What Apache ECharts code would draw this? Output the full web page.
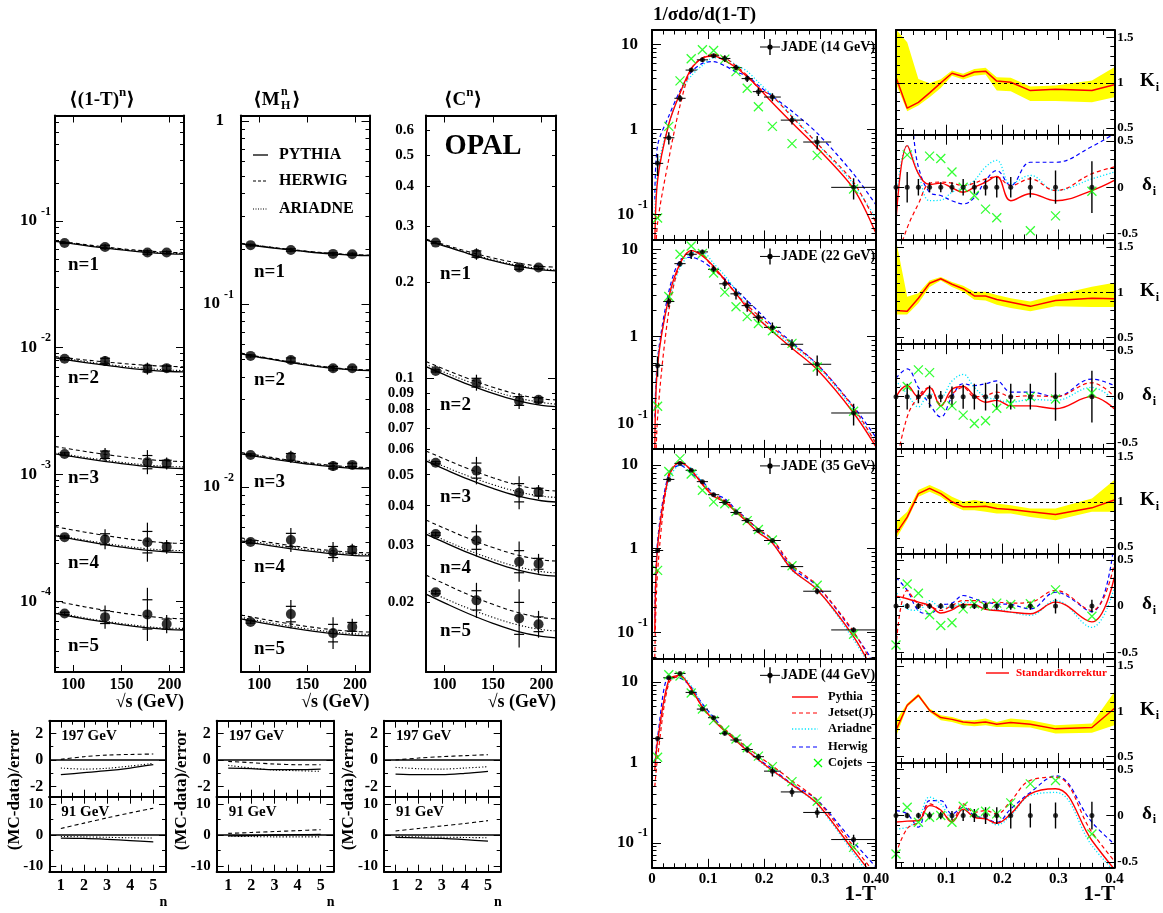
<!DOCTYPE html>
<html>
<head>
<meta charset="utf-8">
<title>OPAL moments and JADE 1-T spectra</title>
<script src="https://cdn.jsdelivr.net/npm/echarts@6.0.0/dist/echarts.min.js"></script>
<style>
html,body{margin:0;padding:0;background:#ffffff;}
#chart{width:1163px;height:913px;}
</style>
</head>
<body>
<div id="chart"></div>
<script>
// ======================= DATA : left block (OPAL moments) =======================
const SQRT_S = [91, 133, 177, 197];
const CURVE_S = [81, 100, 125, 150, 175, 200, 215];

const TAU_DATA = [
  [0.0671, 0.0624, 0.0564, 0.0564],
  [0.00819, 0.00785, 0.00684, 0.0069],
  [0.00145, 0.00143, 0.00125, 0.00122],
  [3.2e-4, 3.08e-4, 2.92e-4, 2.68e-4],
  [8.0e-5, 7.48e-5, 7.86e-5, 6.6e-5]];
const TAU_ERR = [[0.008,0.024,0.024,0.016],[0.016,0.04,0.047,0.032],[0.016,0.053,0.095,0.047],[0.016,0.079,0.154,0.055],[0.016,0.092,0.21,0.072]];
const TAU_PYTHIA = [
  [0.0692,0.0661,0.0622,0.0592,0.0566,0.0551,0.0547],
  [0.00830,0.00789,0.00741,0.00700,0.00669,0.00649,0.00644],
  [0.001455,0.001380,0.001291,0.001217,0.001160,0.001123,0.001114],
  [3.289e-4,3.092e-4,2.862e-4,2.674e-4,2.529e-4,2.438e-4,2.415e-4],
  [8.0e-5,7.53e-5,6.98e-5,6.53e-5,6.19e-5,5.97e-5,5.92e-5]];
const TAU_HERWIG = [
  [0.0700,0.0670,0.0634,0.0604,0.0581,0.0566,0.0562],
  [0.00851,0.00820,0.00783,0.00752,0.00728,0.00712,0.00708],
  [0.001660,0.001572,0.001468,0.001383,0.001317,0.001275,0.001265],
  [3.873e-4,3.642e-4,3.373e-4,3.154e-4,2.984e-4,2.877e-4,2.851e-4],
  [1.0e-4,9.38e-5,8.66e-5,8.07e-5,7.62e-5,7.33e-5,7.26e-5]];
const TAU_ARIADNE = [
  [0.0695,0.0665,0.0627,0.0597,0.0572,0.0557,0.0555],
  [0.00836,0.00803,0.00755,0.00716,0.00687,0.00666,0.00661],
  [0.001483,0.001409,0.001320,0.001246,0.001190,0.001154,0.001148],
  [3.33e-4,3.14e-4,2.92e-4,2.74e-4,2.60e-4,2.52e-4,2.51e-4],
  [8.13e-5,7.66e-5,7.10e-5,6.66e-5,6.32e-5,6.11e-5,6.10e-5]];

const MH_DATA = [
  [0.2095, 0.197, 0.1876, 0.1868],
  [0.052, 0.0494, 0.0445, 0.0445],
  [0.01496, 0.0146, 0.0130, 0.0132],
  [5.0e-3, 5.13e-3, 4.41e-3, 4.53e-3],
  [1.83e-3, 2.02e-3, 1.59e-3, 1.72e-3]];
const MH_ERR = [[0.008,0.012,0.012,0.01],[0.01,0.02,0.018,0.012],[0.01,0.033,0.027,0.016],[0.012,0.066,0.055,0.033],[0.012,0.077,0.087,0.044]];
const MH_PYTHIA = [
  [0.2128,0.2066,0.1991,0.1927,0.1877,0.1844,0.1837],
  [0.05333,0.05113,0.04850,0.04629,0.04457,0.04346,0.04319],
  [0.01514,0.01459,0.01391,0.01335,0.01290,0.01261,0.01254],
  [5.07e-3,4.88e-3,4.66e-3,4.47e-3,4.32e-3,4.22e-3,4.20e-3],
  [1.901e-3,1.821e-3,1.726e-3,1.647e-3,1.585e-3,1.545e-3,1.535e-3]];
const MH_HERWIG = [
  [0.2143,0.2080,0.2005,0.1940,0.1890,0.1857,0.1850],
  [0.05382,0.05160,0.04895,0.04672,0.04498,0.04386,0.04359],
  [0.01542,0.01486,0.01417,0.01360,0.01314,0.01284,0.01277],
  [5.27e-3,5.08e-3,4.85e-3,4.65e-3,4.49e-3,4.39e-3,4.37e-3],
  [1.996e-3,1.912e-3,1.812e-3,1.729e-3,1.664e-3,1.622e-3,1.612e-3]];
const MH_ARIADNE = [
  [0.2135,0.2073,0.1998,0.1934,0.1884,0.1850,0.1843],
  [0.05358,0.05137,0.04872,0.04650,0.04478,0.04366,0.04339],
  [0.01529,0.01474,0.01405,0.01348,0.01303,0.01274,0.01267],
  [5.17e-3,4.98e-3,4.75e-3,4.56e-3,4.41e-3,4.30e-3,4.28e-3],
  [1.939e-3,1.857e-3,1.761e-3,1.680e-3,1.617e-3,1.576e-3,1.566e-3]];

const C_DATA = [
  [0.2667, 0.2455, 0.2228, 0.2228],
  [0.1057, 0.0971, 0.0851, 0.0858],
  [0.0545, 0.0515, 0.0439, 0.0441],
  [0.0326, 0.0311, 0.0267, 0.0263],
  [0.0214, 0.0202, 0.01774, 0.0170]];
const C_ERR = [[0.005,0.018,0.01,0.006],[0.006,0.025,0.025,0.013],[0.006,0.043,0.052,0.022],[0.007,0.05,0.063,0.031],[0.008,0.055,0.091,0.042]];
const C_PYTHIA = [
  [0.2721,0.2602,0.2460,0.2342,0.2250,0.2190,0.2176],
  [0.1090,0.1029,0.09576,0.08985,0.08531,0.08241,0.08170],
  [0.05521,0.05204,0.04833,0.04528,0.04293,0.04144,0.04106],
  [0.03259,0.03068,0.02844,0.02661,0.02519,0.02429,0.02407],
  [0.02113,0.01984,0.01834,0.01711,0.01616,0.01557,0.01542]];
const C_HERWIG = [
  [0.2735,0.2626,0.2497,0.2388,0.2303,0.2247,0.2234],
  [0.1131,0.1070,0.09984,0.09393,0.08938,0.08647,0.08575],
  [0.05934,0.05601,0.05212,0.04891,0.04643,0.04485,0.04446],
  [0.03606,0.03399,0.03155,0.02957,0.02804,0.02706,0.02682],
  [0.02424,0.02276,0.02103,0.01963,0.01853,0.01785,0.01768]];
const C_ARIADNE = [
  [0.2728,0.2612,0.2472,0.2356,0.2266,0.2207,0.2193],
  [0.1109,0.1047,0.0977,0.0916,0.0871,0.0842,0.0832],
  [0.05601,0.05301,0.04947,0.04654,0.04428,0.04283,0.04247],
  [0.03306,0.03118,0.02897,0.02716,0.02575,0.02486,0.02464],
  [0.02175,0.02051,0.01905,0.01787,0.01695,0.01636,0.01622]];

// (MC-data)/error versus n
const N_VALUES = [1, 2, 3, 4, 5];
const DEV_TAU_197_PY = [-1.1, -0.95, -0.8, -0.6, -0.35];
const DEV_TAU_197_HW = [0.05, 0.25, 0.37, 0.42, 0.45];
const DEV_TAU_197_AR = [-0.6, -0.68, -0.62, -0.45, -0.25];
const DEV_TAU_91_PY = [-1.0, -1.1, -1.4, -1.8, -2.2];
const DEV_TAU_91_HW = [2.1, 3.8, 5.5, 7.1, 8.6];
const DEV_TAU_91_AR = [-0.5, -0.6, -0.75, -0.9, -1.0];
const DEV_MH_197_PY = [-0.6, -0.65, -0.72, -0.72, -0.68];
const DEV_MH_197_HW = [-0.1, -0.2, -0.3, -0.35, -0.35];
const DEV_MH_197_AR = [-0.4, -0.6, -0.75, -0.8, -0.85];
const DEV_MH_91_PY = [-0.3, -0.2, 0.0, 0.1, 0.2];
const DEV_MH_91_HW = [0.5, 0.8, 1.1, 1.4, 1.7];
const DEV_MH_91_AR = [-0.4, -0.5, -0.6, -0.6, -0.6];
const DEV_C_197_PY = [-1.05, -1.1, -1.1, -1.0, -0.85];
const DEV_C_197_HW = [0.0, 0.15, 0.25, 0.33, 0.4];
const DEV_C_197_AR = [-0.55, -0.65, -0.68, -0.6, -0.5];
const DEV_C_91_PY = [-0.8, -0.9, -1.1, -1.5, -2.0];
const DEV_C_91_HW = [1.3, 2.1, 2.9, 3.7, 4.6];
const DEV_C_91_AR = [-0.5, -0.6, -0.7, -0.8, -0.9];

// ======================= DATA : right block (JADE 1-T) =======================
const BIN_X  = [0.01, 0.03, 0.05, 0.07, 0.09, 0.11, 0.13, 0.15, 0.17, 0.19, 0.215, 0.25, 0.295, 0.36];
const BIN_LO = [0.00, 0.02, 0.04, 0.06, 0.08, 0.10, 0.12, 0.14, 0.16, 0.18, 0.20, 0.23, 0.27, 0.32];
const BIN_HI = [0.02, 0.04, 0.06, 0.08, 0.10, 0.12, 0.14, 0.16, 0.18, 0.20, 0.23, 0.27, 0.32, 0.40];
const MC_X    = [0.005, 0.01, 0.03, 0.05, 0.07, 0.09, 0.11, 0.13, 0.15, 0.17, 0.19, 0.215, 0.25, 0.295, 0.36, 0.40];
const RATIO_X = [0.01, 0.03, 0.05, 0.07, 0.09, 0.11, 0.13, 0.15, 0.17, 0.19, 0.215, 0.25, 0.295, 0.36, 0.40];
const ENERGY_LABELS = ['JADE (14 GeV)', 'JADE (22 GeV)', 'JADE (35 GeV)', 'JADE (44 GeV)'];

const JADE_14 = [0.40, 0.80, 2.33, 5.0, 6.6, 7.36, 6.85, 5.36, 3.97, 2.79, 2.41, 1.29, 0.713, 0.209];
const JADE_22 = [0.47, 2.53, 6.87, 8.8, 9.36, 5.91, 4.04, 3.1, 2.27, 1.67, 1.28, 0.82, 0.484, 0.134];
const JADE_35 = [0.95, 6.7, 10.4, 8.6, 6.3, 4.4, 3.55, 2.7, 2.16, 1.64, 1.25, 0.61, 0.31, 0.107];
const JADE_44 = [1.99, 11.3, 12.8, 7.43, 4.61, 3.6, 2.3, 1.9, 1.45, 1.18, 0.78, 0.43, 0.239, 0.11];
const ERR_14 = [0.29, 0.164, 0.09, 0.055, 0.055, 0.055, 0.09, 0.07, 0.09, 0.11, 0.11, 0.11, 0.18, 0.28];
const ERR_22 = [0.26, 0.14, 0.07, 0.12, 0.06, 0.11, 0.13, 0.14, 0.15, 0.14, 0.14, 0.14, 0.26, 0.28];
const ERR_35 = [0.045, 0.03, 0.03, 0.03, 0.03, 0.03, 0.03, 0.03, 0.035, 0.04, 0.04, 0.04, 0.08, 0.07];
const ERR_44 = [0.03, 0.03, 0.03, 0.04, 0.04, 0.05, 0.06, 0.07, 0.09, 0.09, 0.14, 0.13, 0.14, 0.15];

const PY_14 = [0.04, 0.254, 1.16, 2.67, 5.15, 6.89, 7.31, 6.47, 5.36, 4.19, 3.12, 2.06, 1.20, 0.609, 0.201, 0.06];
const JS_14 = [0.02, 0.08, 0.45, 1.91, 5.2, 6.96, 7.68, 6.97, 5.6, 4.33, 3.10, 2.45, 1.41, 0.687, 0.24, 0.08];
const AR_14 = [0.1, 0.34, 1.16, 2.67, 4.27, 5.68, 6.96, 6.85, 5.75, 4.84, 3.6, 2.50, 1.46, 0.687, 0.228, 0.09];
const HW_14 = [0.15, 0.65, 1.44, 2.84, 4.73, 6.0, 6.29, 5.62, 4.77, 4.25, 3.29, 2.46, 1.64, 0.906, 0.30, 0.13];
const CJ_14 = [0.091, 1.09, 3.73, 6.79, 8.68, 8.5, 6.73, 4.8, 3.06, 1.85, 1.09, 0.683, 0.497, 0.2];

const PY_22 = [0.05, 0.47, 2.83, 6.87, 9.68, 8.42, 6.38, 4.48, 3.13, 2.13, 1.60, 1.15, 0.738, 0.421, 0.134, 0.055];
const JS_22 = [0.01, 0.12, 1.97, 6.87, 9.68, 8.61, 6.09, 4.44, 3.1, 2.29, 1.75, 1.28, 0.83, 0.484, 0.154, 0.06];
const AR_22 = [0.12, 0.55, 2.61, 6.11, 9.06, 9.36, 6.91, 5.01, 3.41, 2.27, 1.62, 1.20, 0.795, 0.465, 0.147, 0.06];
const HW_22 = [0.12, 0.56, 3.29, 7.56, 8.1, 7.3, 5.91, 4.61, 3.47, 2.59, 1.95, 1.34, 0.86, 0.484, 0.159, 0.07];
const CJ_22 = [0.16, 2.89, 8.8, 10.96, 8.96, 5.36, 3.24, 2.21, 1.7, 1.42, 1.17, 0.84, 0.45, 0.14];

const PY_35 = [0.1, 1.05, 7.24, 10.85, 8.66, 5.83, 4.22, 3.61, 2.74, 2.08, 1.56, 1.17, 0.559, 0.323, 0.089, 0.03];
const JS_35 = [0.05, 0.53, 7.84, 10.66, 8.6, 6.0, 4.43, 3.76, 2.86, 2.22, 1.71, 1.29, 0.636, 0.363, 0.102, 0.035];
const AR_35 = [0.12, 1.11, 6.5, 9.91, 9.12, 6.24, 4.36, 3.7, 2.77, 2.08, 1.58, 1.17, 0.549, 0.329, 0.082, 0.03];
const HW_35 = [0.15, 1.24, 7.84, 9.91, 7.89, 6.34, 4.54, 3.96, 2.92, 2.25, 1.68, 1.27, 0.592, 0.357, 0.10, 0.04];
const CJ_35 = [0.55, 8.31, 11.86, 7.79, 4.98, 3.61, 3.44, 2.77, 2.16, 1.69, 1.27, 0.625, 0.365, 0.095];

const PY_44 = [0.8, 1.85, 10.6, 12.1, 8.23, 4.89, 3.35, 2.46, 1.86, 1.40, 1.08, 0.794, 0.531, 0.308, 0.080, 0.035];
const JS_44 = [0.5, 1.16, 9.72, 11.9, 8.37, 4.86, 3.41, 2.59, 1.97, 1.53, 1.20, 0.905, 0.593, 0.338, 0.090, 0.04];
const AR_44 = [0.8, 1.70, 9.88, 12.3, 8.92, 5.19, 3.53, 2.44, 1.88, 1.41, 1.06, 0.78, 0.523, 0.299, 0.074, 0.03];
const HW_44 = [1.0, 2.10, 11.5, 11.2, 8.63, 5.36, 3.66, 2.51, 1.9, 1.41, 1.10, 0.836, 0.538, 0.342, 0.102, 0.05];
const CJ_44 = [1.16, 12.3, 11.9, 7.3, 4.61, 3.34, 2.53, 1.96, 1.52, 1.2, 0.887, 0.578, 0.33, 0.088];

// correction factors K_i (line and band)
const K_14   = [1.063, 0.72, 0.785, 0.89, 1.0, 1.107, 1.07, 1.12, 1.13, 1.02, 1.007, 0.915, 0.93, 0.915, 0.98];
const KLO_14 = [0.99, 0.685, 0.75, 0.84, 0.944, 1.08, 1.037, 1.08, 1.093, 0.915, 0.907, 0.80, 0.80, 0.785, 0.84];
const KHI_14 = [1.59, 1.45, 1.044, 0.996, 1.04, 1.137, 1.1, 1.155, 1.167, 1.063, 1.056, 0.96, 0.97, 1.026, 1.174];
const K_22   = [0.80, 0.79, 0.935, 1.10, 1.15, 1.09, 1.04, 0.96, 0.96, 0.92, 0.89, 0.845, 0.91, 0.935, 0.93];
const KLO_22 = [0.755, 0.755, 0.88, 1.06, 1.13, 1.06, 1.007, 0.917, 0.91, 0.863, 0.827, 0.79, 0.845, 0.838, 0.838];
const KHI_22 = [1.58, 0.95, 0.99, 1.13, 1.17, 1.115, 1.072, 1.007, 1.007, 0.971, 0.935, 0.9, 0.971, 1.061, 1.105];
const K_35   = [0.648, 0.83, 1.09, 1.148, 1.09, 1.0, 0.944, 0.944, 0.95, 0.926, 0.915, 0.89, 0.86, 0.933, 1.02];
const KLO_35 = [0.59, 0.80, 1.056, 1.11, 1.056, 0.963, 0.907, 0.907, 0.889, 0.87, 0.87, 0.833, 0.796, 0.889, 0.889];
const KHI_35 = [0.78, 0.89, 1.13, 1.185, 1.13, 1.056, 1.0, 1.019, 1.0, 0.981, 0.963, 0.926, 0.926, 1.037, 1.24];
const K_44   = [0.79, 1.066, 1.176, 1.01, 0.93, 0.91, 0.88, 0.87, 0.88, 0.857, 0.875, 0.857, 0.805, 0.82, 1.03];
const KLO_44 = [0.717, 1.048, 1.158, 0.993, 0.90, 0.882, 0.846, 0.835, 0.846, 0.827, 0.827, 0.82, 0.754, 0.761, 0.846];
const KHI_44 = [0.90, 1.085, 1.195, 1.029, 0.956, 0.9375, 0.90, 0.90, 0.919, 0.882, 0.919, 0.90, 0.846, 0.864, 1.213];

// relative deviations delta_i
const DPY_14 = [-0.365, 0.45, 0.146, 0.03, 0.044, -0.007, -0.055, 0, 0.055, 0.117, -0.146, -0.07, -0.146, -0.036, 0.073];
const DJS_14 = [-0.8, -0.44, -0.18, 0.04, 0.055, 0.044, 0.018, 0.044, 0.09, 0.11, 0.018, 0.09, -0.036, 0.146, 0.22];
const DAR_14 = [-0.146, 0.45, 0.146, -0.146, -0.14, -0.055, 0, 0.073, 0.22, 0.29, 0.036, 0.128, -0.036, 0.09, 0.164];
const DHW_14 = [0.8, 0.8, 0.22, -0.055, -0.09, -0.146, -0.18, -0.11, 0.07, 0.18, 0.02, 0.27, 0.27, 0.44, 0.58];
const DCJ_14 = [-0.77, 0.35, 0.6, 0.336, 0.31, 0.164, 0, -0.09, -0.237, -0.33, -0.6, -0.47, -0.31, -0.044];
const DPY_22 = [0, 0.12, 0, 0.1, -0.1, 0.08, 0.11, 0.01, -0.06, -0.04, -0.1, -0.1, -0.13, 0, -0.13];
const DJS_22 = [-0.75, -0.22, 0, 0.1, -0.08, 0.03, 0.1, 0, 0.01, 0.05, 0, 0.01, 0, 0.15, 0];
const DAR_22 = [0.17, 0.03, -0.11, 0.03, 0, 0.17, 0.24, 0.1, 0, -0.03, -0.06, -0.03, -0.04, 0.1, -0.04];
const DHW_22 = [0.2, 0.3, 0.1, -0.08, -0.22, 0, 0.14, 0.12, 0.14, 0.17, 0.05, 0.05, 0, 0.19, 0.12];
const DCJ_22 = [-0.7, 0.11, 0.29, 0.26, -0.1, -0.1, -0.2, -0.29, -0.26, -0.125, -0.08, 0, -0.025, 0.04];
const DPY_35 = [0.108, 0.08, 0.043, 0.007, -0.075, -0.04, 0.018, 0.014, -0.036, -0.047, -0.065, -0.083, 0.043, -0.17, 0.31];
const DJS_35 = [-0.44, 0.17, 0.025, 0, -0.047, 0.007, 0.06, 0.06, 0.03, 0.043, 0.032, 0.043, 0.17, -0.047, 0.46];
const DAR_35 = [0.17, -0.03, -0.047, 0.06, -0.01, -0.01, 0.043, 0.025, -0.036, -0.036, -0.065, -0.1, 0.06, -0.23, 0.2];
const DHW_35 = [0.31, 0.17, -0.047, -0.083, 0.007, 0.032, 0.115, 0.08, 0.043, 0.025, 0.018, -0.03, 0.15, -0.06, 0.7];
const DCJ_35 = [-0.42, 0.24, 0.14, -0.094, -0.21, -0.18, -0.03, 0.025, 0, 0.032, 0.018, 0.025, 0.176, -0.11];
const DPY_44 = [-0.07, -0.06, -0.054, 0.108, 0.06, -0.07, 0.07, -0.02, -0.036, -0.083, 0.018, 0.235, 0.29, -0.27, -0.58];
const DJS_44 = [-0.415, -0.14, -0.07, 0.126, 0.054, -0.054, 0.126, 0.036, 0.054, 0.018, 0.16, 0.38, 0.415, -0.18, -0.49];
const DAR_44 = [-0.144, -0.126, -0.036, 0.2, 0.126, -0.02, 0.06, -0.01, -0.03, -0.1, 0.0, 0.217, 0.25, -0.325, -0.6];
const DHW_44 = [0.054, 0.018, -0.126, 0.162, 0.162, 0.018, 0.09, 0, -0.03, -0.072, 0.072, 0.25, 0.43, -0.072, -0.307];
const DCJ_44 = [-0.415, 0.09, -0.072, -0.018, 0, -0.072, 0.1, 0.03, 0.047, 0.018, 0.137, 0.343, 0.38, -0.2];

// axis ranges and tick labels
const SPEC_YMIN = [0.051, 0.052, 0.049, 0.049];
const SPEC_YMAX = [14.8, 13.0, 15.5, 19.7];
const TICKS_SQRT_S = [100, 150, 200];
const TICKS_TAU = [1e-4, 1e-3, 1e-2, 1e-1];
const TICKS_MH = [1e-2, 1e-1, 1];
const TICKS_C = [0.02, 0.03, 0.04, 0.05, 0.06, 0.07, 0.08, 0.09, 0.1, 0.2, 0.3, 0.4, 0.5, 0.6];
const TICKS_N = [1, 2, 3, 4, 5];
const TICKS_DEV_197 = [-2, 0, 2];
const TICKS_DEV_91 = [-10, 0, 10];
const TICKS_1MT = [0, 0.1, 0.2, 0.3, 0.4];
const TICKS_RATIO_X = [0.1, 0.2, 0.3, 0.4];
const TICKS_SPEC_Y = [0.1, 1, 10];
const TICKS_K = [0.5, 1, 1.5];
const TICKS_DELTA = [-0.5, 0, 0.5];

// ======================= helpers =======================
const SERIF = '"Liberation Serif", "DejaVu Serif", "Times New Roman", serif';
const grid = [], xAxis = [], yAxis = [], series = [], graphic = [];

function logMinor(lo, hi) {
  const out = [];
  for (let e = Math.floor(Math.log10(lo)); e <= Math.ceil(Math.log10(hi)); e++) {
    for (let m = 2; m <= 9; m++) {
      const v = parseFloat((m * Math.pow(10, e)).toPrecision(6));
      if (v >= lo && v <= hi) out.push(v);
    }
  }
  return out;
}
function linMinor(lo, hi, step, skip) {
  const out = [];
  const n0 = Math.ceil(lo / step - 1e-9), n1 = Math.floor(hi / step + 1e-9);
  for (let i = n0; i <= n1; i++) {
    const v = parseFloat((i * step).toFixed(6));
    if (skip.some(s => Math.abs(s - v) < 1e-9)) continue;
    out.push(v);
  }
  return out;
}
function expRich(size) {
  return {
    b: {fontFamily: SERIF, fontWeight: 'bold', fontSize: size, color: '#000', verticalAlign: 'bottom', padding: [7, 0, 7, 0]},
    s: {fontFamily: SERIF, fontWeight: 'bold', fontSize: 12, color: '#000', verticalAlign: 'top', padding: [0, 0, 0, 4]},
    p: {fontFamily: SERIF, fontWeight: 'bold', fontSize: size, color: '#000', padding: [0, 10, 0, 0]}
  };
}
const SUB_RICH = {
  k: {fontFamily: SERIF, fontWeight: 'bold', fontSize: 19, color: '#000', lineHeight: 22, verticalAlign: 'top'},
  i: {fontFamily: SERIF, fontWeight: 'bold', fontSize: 12, color: '#000', lineHeight: 12, verticalAlign: 'bottom', padding: [0, 0, 0, 1]}
};
const TITLE_RICH = {
  a: {fontFamily: SERIF, fontWeight: 'bold', fontSize: 19, color: '#000', lineHeight: 24, verticalAlign: 'bottom'},
  s: {fontFamily: SERIF, fontWeight: 'bold', fontSize: 13, color: '#000', lineHeight: 14, verticalAlign: 'top'}
};
function expLabel(v) {
  const e = Math.round(Math.log10(v));
  if (e === 0) return '{p|1}';
  if (e === 1) return '{p|10}';
  return '{b|10}{s|' + e + '}';
}
function spec(o) {
  return Object.assign({type: 'value', majorLen: 8, minorLen: 4, margin: 5, fontSize: 15, labelSide: null, minor: [], fmt: v => String(v)}, o);
}
function axisSet(s, gi, dim) {
  const sides = dim === 'x' ? ['bottom', 'top'] : ['left', 'right'];
  const out = [];
  sides.forEach(side => {
    [true, false].forEach(major => {
      const ticks = major ? s.major : s.minor;
      const hasTicks = !!(ticks && ticks.length);
      const lab = major && s.labelSide === side;
      const ax = {
        type: s.type, gridIndex: gi, position: side, min: s.min, max: s.max, silent: true, z: 10,
        axisLine: {show: major, onZero: false, lineStyle: {color: '#000', width: 2}},
        axisTick: {show: hasTicks, inside: true, length: major ? s.majorLen : s.minorLen, lineStyle: {color: '#000', width: 1}},
        axisLabel: {show: false},
        splitLine: {show: false}, splitArea: {show: false}, minorTick: {show: false}, minorSplitLine: {show: false}
      };
      if (hasTicks) ax.axisTick.customValues = ticks;
      if (lab) ax.axisLabel = {show: true, customValues: s.labels, formatter: s.fmt, margin: s.margin, color: '#000',
        fontFamily: SERIF, fontWeight: 'bold', fontSize: s.fontSize, rich: s.rich, hideOverlap: false,
        showMinLabel: true, showMaxLabel: true};
      if (s.type === 'log') ax.logBase = 10;
      out.push(ax);
    });
  });
  return out;
}
function addPanel(rect, xs, ys) {
  const gi = grid.length;
  grid.push({left: rect[0], top: rect[1], width: rect[2], height: rect[3], containLabel: false, outerBoundsMode: 'none', show: false});
  const xi = xAxis.length; axisSet(xs, gi, 'x').forEach(a => xAxis.push(a));
  const yi = yAxis.length; axisSet(ys, gi, 'y').forEach(a => yAxis.push(a));
  return {xi, yi};
}
function lineS(p, xs, ys, color, dash, width, smooth) {
  return {type: 'line', xAxisIndex: p.xi, yAxisIndex: p.yi, data: xs.map((x, i) => [x, ys[i]]),
    showSymbol: false, symbol: 'none', smooth: smooth, clip: true, silent: true, animation: false, z: 3,
    lineStyle: {color: color, width: width, type: dash}};
}
function dotS(p, xs, ys, size) {
  return {type: 'scatter', xAxisIndex: p.xi, yAxisIndex: p.yi, data: xs.map((x, i) => [x, ys[i]]),
    symbol: 'circle', symbolSize: size, itemStyle: {color: '#000'}, silent: true, animation: false, z: 6, clip: true};
}
function crossS(p, xs, ys) {
  return {type: 'scatter', xAxisIndex: p.xi, yAxisIndex: p.yi, data: xs.map((x, i) => [x, ys[i]]),
    symbol: 'path://M0,0L10,10M10,0L0,10', symbolSize: 9,
    itemStyle: {color: 'rgba(0,0,0,0)', borderColor: '#00ff00', borderWidth: 1.3},
    silent: true, animation: false, z: 5, clip: true};
}
function txt(x, y, text, size, o) {
  o = o || {};
  const st = {text: text, fill: o.color || '#000', fontFamily: SERIF, fontWeight: o.weight || 'bold', fontSize: size,
    align: o.align || 'left', verticalAlign: 'middle', textAlign: o.align || 'left', textVerticalAlign: 'middle'};
  if (o.rich) st.rich = o.rich;
  graphic.push({type: 'text', x: x, y: y, rotation: o.rot || 0, silent: true, z: 50, style: st});
}
function gl(x1, y1, x2, y2, color, w, dash) {
  graphic.push({type: 'line', silent: true, z: 50, shape: {x1: x1, y1: y1, x2: x2, y2: y2},
    style: {stroke: color, lineWidth: w, lineDash: dash || null}});
}
const DASH = [4, 3], DOT = [1.2, 2];

// ======================= left block: moments =======================
const LEFT_TOP = 115.5, LEFT_H = 556.5;
const xMain = spec({min: 81, max: 215, major: TICKS_SQRT_S, labels: TICKS_SQRT_S, majorLen: 7, labelSide: 'bottom', margin: 5, fontSize: 16});

function momentPanel(rect, ySpec, data, err, py, hw, ar) {
  const p = addPanel(rect, xMain, ySpec);
  for (let n = 0; n < 5; n++) {
    series.push(lineS(p, CURVE_S, py[n], '#000', 'solid', 1.3, 0.4));
    series.push(lineS(p, CURVE_S, hw[n], '#000', DASH, 1.1, 0.4));
    series.push(lineS(p, CURVE_S, ar[n], '#000', DOT, 1.1, 0.4));
  }
  const edata = [];
  data.forEach((row, n) => row.forEach((v, i) => edata.push([SQRT_S[i], v, err[n][i]])));
  series.push({type: 'custom', xAxisIndex: p.xi, yAxisIndex: p.yi, data: edata, silent: true, animation: false, z: 4,
    renderItem: function (params, api) {
      const x = api.value(0), v = api.value(1), d = api.value(2);
      const f = Math.pow(10, d), fs = Math.pow(10, 0.55 * d);
      const c = api.coord([x, v]), hi = api.coord([x, v * f]), lo = api.coord([x, v / f]);
      const hs = api.coord([x, v * fs]), ls = api.coord([x, v / fs]);
      const st = {stroke: '#000', lineWidth: 1.2};
      return {type: 'group', children: [
        {type: 'line', shape: {x1: c[0], y1: hi[1], x2: c[0], y2: lo[1]}, style: st},
        {type: 'line', shape: {x1: c[0] - 5, y1: hs[1], x2: c[0] + 5, y2: hs[1]}, style: st},
        {type: 'line', shape: {x1: c[0] - 5, y1: ls[1], x2: c[0] + 5, y2: ls[1]}, style: st}]};
    }});
  const dd = [];
  data.forEach(row => row.forEach((v, i) => dd.push([SQRT_S[i], v])));
  series.push({type: 'scatter', xAxisIndex: p.xi, yAxisIndex: p.yi, data: dd, symbol: 'circle', symbolSize: 10,
    itemStyle: {color: '#000'}, silent: true, animation: false, z: 6});
}
momentPanel([55, LEFT_TOP, 129, LEFT_H],
  spec({type: 'log', min: 2.76e-5, max: 0.68, major: TICKS_TAU, minor: logMinor(2.76e-5, 0.68), labels: TICKS_TAU,
    labelSide: 'left', fmt: expLabel, rich: expRich(17), margin: 4}),
  TAU_DATA, TAU_ERR, TAU_PYTHIA, TAU_HERWIG, TAU_ARIADNE);
momentPanel([241, LEFT_TOP, 128.5, LEFT_H],
  spec({type: 'log', min: 9.75e-4, max: 1.07, major: TICKS_MH, minor: logMinor(9.75e-4, 1.07), labels: TICKS_MH,
    labelSide: 'left', fmt: expLabel, rich: expRich(17), margin: 7}),
  MH_DATA, MH_ERR, MH_PYTHIA, MH_HERWIG, MH_ARIADNE);
momentPanel([426, LEFT_TOP, 130, LEFT_H],
  spec({type: 'log', min: 0.01205, max: 0.667, major: [0.1], minor: logMinor(0.01205, 0.667), labels: TICKS_C,
    labelSide: 'left', fmt: v => String(parseFloat(v.toPrecision(2))), fontSize: 15, margin: 12}),
  C_DATA, C_ERR, C_PYTHIA, C_HERWIG, C_ARIADNE);

// small deviation panels
function devPanel(left, py197, hw197, ar197, py91, hw91, ar91) {
  const xUp = spec({min: 0.5, max: 5.55, major: TICKS_N, minor: [1.5, 2.5, 3.5, 4.5], majorLen: 7, minorLen: 4});
  const xLo = spec({min: 0.5, max: 5.55, major: TICKS_N, minor: [1.5, 2.5, 3.5, 4.5], majorLen: 7, minorLen: 4,
    labels: TICKS_N, labelSide: 'bottom', margin: 6, fontSize: 16});
  const pu = addPanel([left, 720.7, 116.7, 76], xUp,
    spec({min: -2.75, max: 2.95, major: TICKS_DEV_197, minor: [-1, 1], labels: TICKS_DEV_197, labelSide: 'left', fontSize: 16, margin: 6, majorLen: 7}));
  const pl = addPanel([left, 796.7, 116.7, 75], xLo,
    spec({min: -11.8, max: 12.3, major: TICKS_DEV_91, minor: [-5, 5], labels: TICKS_DEV_91, labelSide: 'left', fontSize: 15, margin: 6, majorLen: 7}));
  [[pu, py197, hw197, ar197], [pl, py91, hw91, ar91]].forEach(r => {
    const s = lineS(r[0], N_VALUES, r[1], '#000', 'solid', 1.3, 0.3);
    s.markLine = {silent: true, animation: false, symbol: ['none', 'none'], label: {show: false},
      lineStyle: {color: '#000', type: 'solid', width: 1.5}, data: [{yAxis: 0}]};
    series.push(s);
    series.push(lineS(r[0], N_VALUES, r[2], '#000', DASH, 1.1, 0.3));
    series.push(lineS(r[0], N_VALUES, r[3], '#000', DOT, 1.1, 0.3));
  });
}
devPanel(49.3, DEV_TAU_197_PY, DEV_TAU_197_HW, DEV_TAU_197_AR, DEV_TAU_91_PY, DEV_TAU_91_HW, DEV_TAU_91_AR);
devPanel(216.7, DEV_MH_197_PY, DEV_MH_197_HW, DEV_MH_197_AR, DEV_MH_91_PY, DEV_MH_91_HW, DEV_MH_91_AR);
devPanel(384, DEV_C_197_PY, DEV_C_197_HW, DEV_C_197_AR, DEV_C_91_PY, DEV_C_91_HW, DEV_C_91_AR);

// left block texts
txt(102, 98, '{a|⟨(1-T)}{s|n}{a|⟩}', 19, {align: 'center', rich: TITLE_RICH});
txt(253, 100, '⟨M', 19);
txt(281, 92, 'n', 12);
txt(281, 106, 'H', 12);
txt(292, 100, '⟩', 19);
txt(463, 98, '{a|⟨C}{s|n}{a|⟩}', 19, {align: 'center', rich: TITLE_RICH});
txt(483, 147, 'OPAL', 28.5, {align: 'center'});
[265, 378, 478, 563, 646].forEach((y, i) => txt(68, y, 'n=' + (i + 1), 19));
[272, 380, 482, 567, 649].forEach((y, i) => txt(254, y, 'n=' + (i + 1), 19));
[274, 405, 497, 568, 631].forEach((y, i) => txt(440, y, 'n=' + (i + 1), 19));
[184, 369.5, 556].forEach(x => txt(x, 702, '√s (GeV)', 18, {align: 'right'}));
gl(253, 155, 268, 155, '#000', 1.3);
gl(253, 181, 268, 181, '#000', 1.1, [3, 2]);
gl(253, 209, 268, 209, '#000', 1.1, [1, 1.5]);
txt(279, 155, 'PYTHIA', 16);
txt(279, 181, 'HERWIG', 16);
txt(279, 209, 'ARIADNE', 16);
[49.3, 216.7, 384].forEach(x => {
  txt(x + 12, 736, '197 GeV', 15);
  txt(x + 12, 811.7, '91 GeV', 15);
  txt(x - 35, 790, '(MC-data)/error', 17, {align: 'center', rot: Math.PI / 2});
  txt(x + 114, 902, 'n', 14, {align: 'center'});
});

// ======================= right block: JADE =======================
const JADE = [JADE_14, JADE_22, JADE_35, JADE_44];
const ERRS = [ERR_14, ERR_22, ERR_35, ERR_44];
const PYS = [PY_14, PY_22, PY_35, PY_44], JSS = [JS_14, JS_22, JS_35, JS_44];
const ARS = [AR_14, AR_22, AR_35, AR_44], HWS = [HW_14, HW_22, HW_35, HW_44];
const CJS = [CJ_14, CJ_22, CJ_35, CJ_44];
const KS = [K_14, K_22, K_35, K_44], KLOS = [KLO_14, KLO_22, KLO_35, KLO_44], KHIS = [KHI_14, KHI_22, KHI_35, KHI_44];
const DPYS = [DPY_14, DPY_22, DPY_35, DPY_44], DJSS = [DJS_14, DJS_22, DJS_35, DJS_44];
const DARS = [DAR_14, DAR_22, DAR_35, DAR_44], DHWS = [DHW_14, DHW_22, DHW_35, DHW_44];
const DCJS = [DCJ_14, DCJ_22, DCJ_35, DCJ_44];

const ROW_TOP = 30, ROW_H = 209.45, KH = 104.7;
const SPEC_MINOR_X = linMinor(0, 0.4, 0.02, TICKS_1MT);
const RATIO_MINOR_X = linMinor(0.01, 0.4, 0.02, TICKS_RATIO_X);
const CYAN = '#00e5ff';

for (let k = 0; k < 4; k++) {
  const t = ROW_TOP + k * ROW_H;
  const last = k === 3;
  // spectrum
  const ps = addPanel([652, t, 224, ROW_H],
    spec({min: 0, max: 0.4, major: TICKS_1MT, minor: SPEC_MINOR_X, majorLen: 9, minorLen: 4.5, labels: TICKS_1MT,
      labelSide: last ? 'bottom' : null, margin: 4, fontSize: 15,
      fmt: v => (v === 0 ? '0' : (v > 0.35 ? '0.40' : v.toFixed(1)))}),
    spec({type: 'log', min: SPEC_YMIN[k], max: SPEC_YMAX[k], major: TICKS_SPEC_Y, minor: logMinor(SPEC_YMIN[k], SPEC_YMAX[k]),
      majorLen: 9, minorLen: 4.5, labels: TICKS_SPEC_Y, labelSide: 'left', fmt: expLabel, rich: expRich(17), margin: 4}));
  series.push(lineS(ps, MC_X, HWS[k], '#0000ff', DASH, 1.2, 0.3));
  series.push(lineS(ps, MC_X, ARS[k], CYAN, DOT, 1.3, 0.3));
  series.push(lineS(ps, MC_X, JSS[k], '#ff0000', DASH, 1.2, 0.3));
  series.push(lineS(ps, MC_X, PYS[k], '#ff0000', 'solid', 1.4, 0.3));
  series.push(crossS(ps, BIN_X, CJS[k]));
  const jd = JADE[k], je = ERRS[k];
  series.push({type: 'custom', xAxisIndex: ps.xi, yAxisIndex: ps.yi, clip: true, silent: true, animation: false, z: 5,
    data: BIN_X.map((x, i) => [x, jd[i], je[i], BIN_LO[i], BIN_HI[i]]),
    renderItem: function (params, api) {
      const x = api.value(0), v = api.value(1), e = api.value(2);
      const c = api.coord([x, v]), hi = api.coord([x, v * (1 + e)]), lo = api.coord([x, v * (1 - e)]);
      const l = api.coord([api.value(3), v]), r = api.coord([api.value(4), v]);
      return {type: 'group', children: [
        {type: 'line', shape: {x1: c[0], y1: hi[1], x2: c[0], y2: lo[1]}, style: {stroke: '#000', lineWidth: 1.4}},
        {type: 'line', shape: {x1: l[0], y1: c[1], x2: r[0], y2: c[1]}, style: {stroke: '#000', lineWidth: 1}}]};
    }});
  series.push(dotS(ps, BIN_X, jd, 5));

  // K panel
  const pk = addPanel([896, t, 218.3, KH],
    spec({min: 0.01, max: 0.4, major: TICKS_RATIO_X, minor: RATIO_MINOR_X, majorLen: 10, minorLen: 5}),
    spec({min: 0.427, max: 1.585, major: TICKS_K, minor: [0.6, 0.7, 0.8, 0.9, 1.1, 1.2, 1.3, 1.4], labels: TICKS_K,
      labelSide: 'right', fontSize: 13, margin: 3, majorLen: 8, minorLen: 4}));
  const kx = RATIO_X, klo = KLOS[k], khi = KHIS[k];
  series.push({type: 'custom', xAxisIndex: pk.xi, yAxisIndex: pk.yi, clip: true, silent: true, animation: false, z: 2,
    data: kx.map((x, i) => [x, klo[i], khi[i]]),
    renderItem: function (params, api) {
      if (params.dataIndex !== 0) return null;
      const pts = [];
      kx.forEach((x, i) => pts.push(api.coord([x, khi[i]])));
      for (let i = kx.length - 1; i >= 0; i--) pts.push(api.coord([kx[i], klo[i]]));
      return {type: 'polygon', shape: {points: pts}, style: {fill: '#ffff00'}};
    }});
  const ks = lineS(pk, RATIO_X, KS[k], '#ff0000', 'solid', 1.5, false);
  ks.markLine = {silent: true, animation: false, symbol: ['none', 'none'], label: {show: false},
    lineStyle: {color: '#000', type: [3, 3], width: 1}, data: [{yAxis: 1}]};
  series.push(ks);

  // delta panel
  const pd = addPanel([896, t + KH, 218.3, ROW_H - KH],
    spec({min: 0.01, max: 0.4, major: TICKS_RATIO_X, minor: RATIO_MINOR_X, majorLen: 10, minorLen: 5,
      labels: TICKS_RATIO_X, labelSide: last ? 'bottom' : null, margin: 4, fontSize: 15, fmt: v => v.toFixed(1)}),
    spec({min: -0.565, max: 0.568, major: TICKS_DELTA, minor: [-0.4, -0.3, -0.2, -0.1, 0.1, 0.2, 0.3, 0.4], labels: TICKS_DELTA,
      labelSide: 'right', fontSize: 13, margin: 3, majorLen: 8, minorLen: 4}));
  series.push(lineS(pd, RATIO_X, DHWS[k], '#0000ff', DASH, 1.2, 0.4));
  series.push(lineS(pd, RATIO_X, DARS[k], CYAN, DOT, 1.3, 0.4));
  series.push(lineS(pd, RATIO_X, DJSS[k], '#ff0000', DASH, 1.2, 0.4));
  series.push(lineS(pd, RATIO_X, DPYS[k], '#ff0000', 'solid', 1.4, 0.4));
  series.push(crossS(pd, BIN_X, DCJS[k]));
  series.push({type: 'custom', xAxisIndex: pd.xi, yAxisIndex: pd.yi, clip: true, silent: true, animation: false, z: 5,
    data: BIN_X.map((x, i) => [x, 0, je[i]]),
    renderItem: function (params, api) {
      const x = api.value(0), e = api.value(2);
      const a = api.coord([x, e]), b = api.coord([x, -e]);
      return {type: 'line', shape: {x1: a[0], y1: a[1], x2: b[0], y2: b[1]}, style: {stroke: '#000', lineWidth: 1.4}};
    }});
  series.push(dotS(pd, BIN_X, BIN_X.map(() => 0), 5));

  // row labels
  gl(760, t + 17, 780, t + 17, '#000', 1);
  gl(770, t + 9, 770, t + 25, '#000', 1.4);
  graphic.push({type: 'circle', silent: true, z: 50, shape: {cx: 770, cy: t + 17, r: 2.6}, style: {fill: '#000'}});
  txt(781, t + 17, ENERGY_LABELS[k], 14);
  txt(1140, t + 53, '{k|K}{i|i}', 19, {rich: SUB_RICH});
  txt(1142, t + 157, '{k|δ}{i|i}', 19, {rich: SUB_RICH});
}

// right block texts and legend
txt(653, 15, '1/σdσ/d(1-T)', 19);
txt(876, 895, '1-T', 21, {align: 'right'});
txt(1115, 895, '1-T', 21, {align: 'right'});
gl(792, 697, 818, 697, '#ff0000', 1.4);
gl(792, 713, 818, 713, '#ff0000', 1.2, DASH);
gl(792, 729, 818, 729, CYAN, 1.3, DOT);
gl(792, 747, 818, 747, '#0000ff', 1.2, DASH);
gl(814, 759, 822, 767, '#00ff00', 1.3);
gl(822, 759, 814, 767, '#00ff00', 1.3);
txt(828, 697, 'Pythia', 12.5);
txt(828, 713, 'Jetset(J)', 12.5);
txt(828, 729, 'Ariadne', 12.5);
txt(828, 747, 'Herwig', 12.5);
txt(828, 763, 'Cojets', 12.5);
gl(986, 673, 1009, 673, '#ff0000', 1.4);
txt(1016, 673, 'Standardkorrektur', 11, {color: '#ff0000'});

// ======================= render =======================
const chart = echarts.init(document.getElementById('chart'), null, {renderer: 'canvas', width: 1163, height: 913});
chart.setOption({
  animation: false,
  backgroundColor: '#ffffff',
  textStyle: {fontFamily: SERIF},
  grid: grid, xAxis: xAxis, yAxis: yAxis, series: series,
  graphic: {elements: graphic}
});
</script>
</body>
</html>
